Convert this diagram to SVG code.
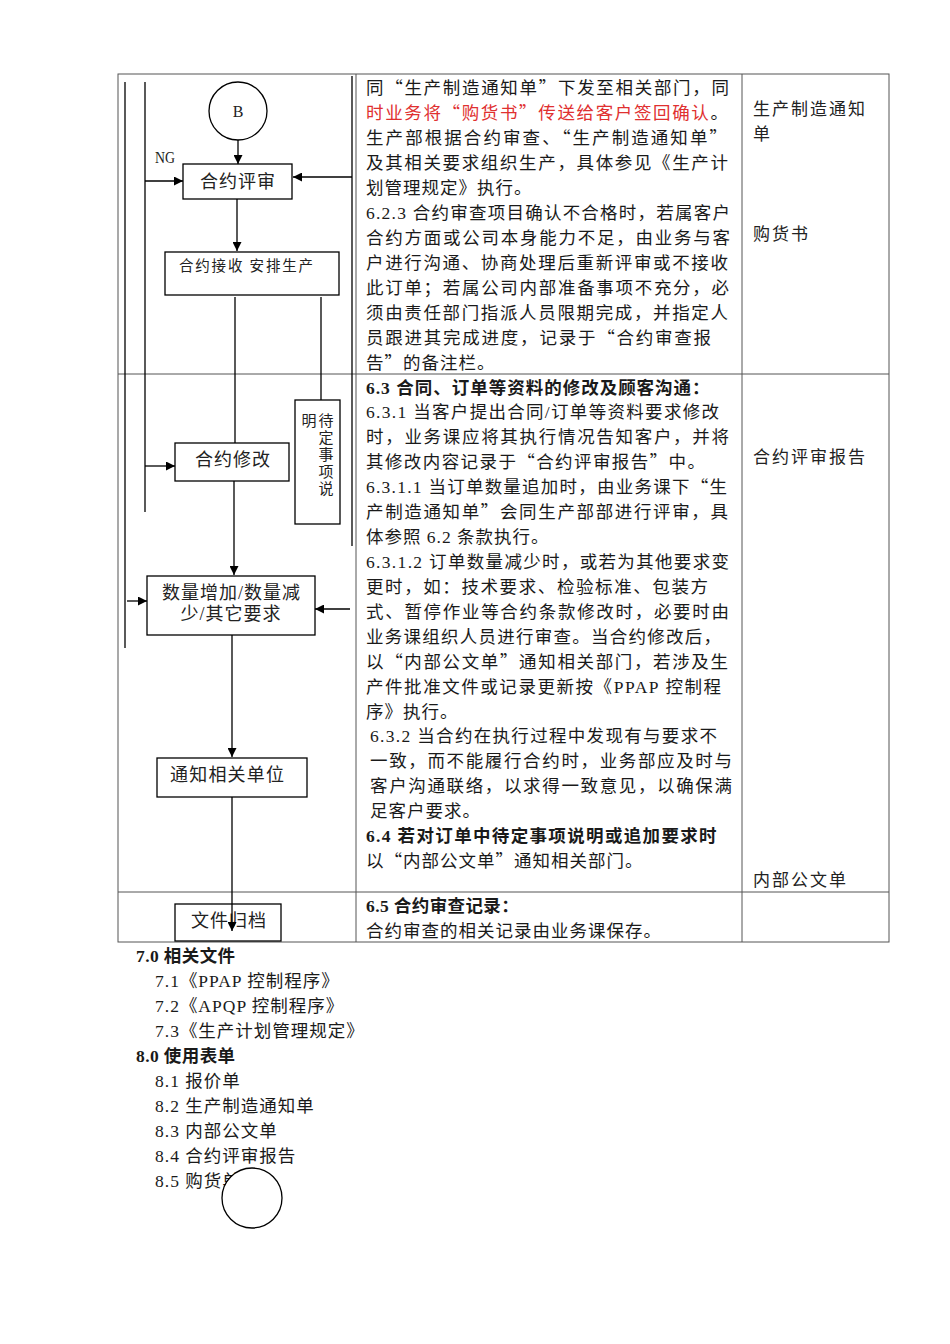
<svg xmlns="http://www.w3.org/2000/svg" width="950" height="1344" viewBox="0 0 950 1344">
<defs>
<marker id="ah" viewBox="0 0 10 10" refX="10" refY="5" markerWidth="9" markerHeight="9" markerUnits="userSpaceOnUse" orient="auto"><path d="M0,0 L10,5 L0,10 z" fill="#000"/></marker>
<style>
.t{font-family:"Liberation Serif","Noto Sans CJK SC",serif;font-size:17.5px;fill:#1a1a1a;letter-spacing:1px}
.b{font-weight:bold;letter-spacing:0.4px}
.r{fill:#e03030}
.q{font-family:"Noto Sans CJK SC",sans-serif}
.grid{stroke:#555;stroke-width:1;fill:none}
.box{fill:#fff;stroke:#000;stroke-width:1.3}
.ln{stroke:#000;stroke-width:1.3;fill:none}
.ar{stroke:#000;stroke-width:1.3;fill:none;marker-end:url(#ah)}
.n{font-family:"Liberation Serif","Noto Sans CJK SC",serif;font-size:18px;fill:#222}
.rc{font-family:"Liberation Serif","Noto Sans CJK SC",serif;font-size:17px;fill:#222;letter-spacing:2px}
</style>
</defs>
<rect width="950" height="1344" fill="#fff"/>
<g id="table">
<rect class="grid" x="118" y="74" width="771" height="868"/>
<line class="grid" x1="356" y1="74" x2="356" y2="942"/>
<line class="grid" x1="742" y1="74" x2="742" y2="942"/>
<line class="grid" x1="118" y1="374" x2="889" y2="374"/>
<line class="grid" x1="118" y1="892" x2="889" y2="892"/>
</g>
<g id="connectors">
<line class="ln" x1="125" y1="82" x2="125" y2="648"/>
<line class="ln" x1="145" y1="82" x2="145" y2="512"/>
<line class="ln" x1="352" y1="76" x2="352" y2="546"/>
<line class="ar" x1="238" y1="140" x2="238" y2="164"/>
<line class="ar" x1="145" y1="181" x2="183" y2="181"/>
<line class="ar" x1="352" y1="177" x2="293" y2="177"/>
<line class="ar" x1="237" y1="199" x2="237" y2="251"/>
<line class="ln" x1="235" y1="297" x2="235" y2="443"/>
<line class="ln" x1="321" y1="297" x2="321" y2="400"/>
<line class="ar" x1="145" y1="466" x2="175" y2="466"/>
<line class="ar" x1="234" y1="481" x2="234" y2="575"/>
<line class="ar" x1="127" y1="601" x2="147" y2="601"/>
<line class="ar" x1="350" y1="609" x2="315" y2="609"/>
<line class="ar" x1="232" y1="635" x2="232" y2="757"/>
<text class="n" x="155" y="163" style="font-size:16px" textLength="20" lengthAdjust="spacingAndGlyphs">NG</text>
</g>
<g id="nodeB">
<circle class="box" cx="238" cy="111" r="29"/>
<text class="n" x="238" y="117" text-anchor="middle" style="font-size:16px">B</text>
</g>
<g id="review">
<rect class="box" x="183" y="164" width="109" height="35"/>
<text class="n" x="238" y="188" text-anchor="middle" style="letter-spacing:1px">合约评审</text>
</g>
<g id="accept">
<rect class="box" x="165" y="252" width="174" height="43"/>
<text class="n" x="179" y="271" style="font-size:14.5px" textLength="134" lengthAdjust="spacing">合约接收 安排生产</text>
</g>
<g id="pending">
<rect class="box" x="295" y="400" width="45" height="124"/>
<text class="n" style="font-size:15px" text-anchor="middle"><tspan x="326" y="426">待</tspan><tspan x="326" y="443">定</tspan><tspan x="326" y="460">事</tspan><tspan x="326" y="477">项</tspan><tspan x="326" y="494">说</tspan><tspan x="309" y="426">明</tspan></text>
</g>
<g id="modify">
<rect class="box" x="175" y="443" width="114" height="38"/>
<text class="n" x="233" y="466" text-anchor="middle" style="letter-spacing:1px">合约修改</text>
</g>
<g id="change">
<rect class="box" x="147" y="576" width="168" height="59"/>
<text class="n" x="231" y="599" text-anchor="middle" textLength="138" lengthAdjust="spacing">数量增加/数量减</text>
<text class="n" x="231" y="620" text-anchor="middle" style="letter-spacing:1px">少/其它要求</text>
</g>
<g id="notify">
<rect class="box" x="157" y="758" width="150" height="39"/>
<text class="n" x="170" y="781" textLength="114" lengthAdjust="spacing">通知相关单位</text>
</g>
<g id="archive">
<rect class="box" x="175" y="904" width="106" height="37"/>
<text class="n" x="229" y="927" text-anchor="middle" style="letter-spacing:1px">文件归档</text>
</g>
<g id="archive-arrow">
<line class="ar" x1="232" y1="797" x2="232" y2="931"/>
</g>
<g id="text1">
<text class="t" x="366" y="94" textLength="364" lengthAdjust="spacing">同<tspan class="q">“</tspan>生产制造通知单<tspan class="q">”</tspan>下发至相关部门，同</text>
<text class="t" x="366" y="119" textLength="363" lengthAdjust="spacing"><tspan class="r">时业务将<tspan class="q">“</tspan>购货书<tspan class="q">”</tspan>传送给客户签回确认</tspan>。</text>
<text class="t" x="366" y="144" textLength="362" lengthAdjust="spacing">生产部根据合约审查、<tspan class="q">“</tspan>生产制造通知单<tspan class="q">”</tspan></text>
<text class="t" x="366" y="169" textLength="363" lengthAdjust="spacing">及其相关要求组织生产，具体参见《生产计</text>
<text class="t" x="366" y="194">划管理规定》执行。</text>
<text class="t" x="366" y="219" textLength="365" lengthAdjust="spacing">6.2.3 合约审查项目确认不合格时，若属客户</text>
<text class="t" x="366" y="244" textLength="365" lengthAdjust="spacing">合约方面或公司本身能力不足，由业务与客</text>
<text class="t" x="366" y="269" textLength="363" lengthAdjust="spacing">户进行沟通、协商处理后重新评审或不接收</text>
<text class="t" x="366" y="294" textLength="364" lengthAdjust="spacing">此订单；若属公司内部准备事项不充分，必</text>
<text class="t" x="366" y="319" textLength="363" lengthAdjust="spacing">须由责任部门指派人员限期完成，并指定人</text>
<text class="t" x="366" y="344" textLength="346" lengthAdjust="spacing">员跟进其完成进度，记录于<tspan class="q">“</tspan>合约审查报</text>
<text class="t" x="366" y="369">告<tspan class="q">”</tspan>的备注栏。</text>
</g>
<g id="text2">
<text class="t b" x="366" y="394" textLength="344" lengthAdjust="spacing">6.3 合同、订单等资料的修改及顾客沟通：</text>
<text class="t" x="366" y="418" textLength="354" lengthAdjust="spacing">6.3.1 当客户提出合同/订单等资料要求修改</text>
<text class="t" x="366" y="443" textLength="364" lengthAdjust="spacing">时，业务课应将其执行情况告知客户，并将</text>
<text class="t" x="366" y="468" textLength="340" lengthAdjust="spacing">其修改内容记录于<tspan class="q">“</tspan>合约评审报告<tspan class="q">”</tspan>中。</text>
<text class="t" x="366" y="493" textLength="362" lengthAdjust="spacing">6.3.1.1 当订单数量追加时，由业务课下<tspan class="q">“</tspan>生</text>
<text class="t" x="366" y="518" textLength="363" lengthAdjust="spacing">产制造通知单<tspan class="q">”</tspan>会同生产部部进行评审，具</text>
<text class="t" x="366" y="543">体参照 6.2 条款执行。</text>
<text class="t" x="366" y="568" textLength="364" lengthAdjust="spacing">6.3.1.2 订单数量减少时，或若为其他要求变</text>
<text class="t" x="366" y="593" textLength="343" lengthAdjust="spacing">更时，如：技术要求、检验标准、包装方</text>
<text class="t" x="366" y="618" textLength="364" lengthAdjust="spacing">式、暂停作业等合约条款修改时，必要时由</text>
<text class="t" x="366" y="643" textLength="356" lengthAdjust="spacing">业务课组织人员进行审查。当合约修改后，</text>
<text class="t" x="366" y="668" textLength="363" lengthAdjust="spacing">以<tspan class="q">“</tspan>内部公文单<tspan class="q">”</tspan>通知相关部门，若涉及生</text>
<text class="t" x="366" y="693" textLength="356" lengthAdjust="spacing">产件批准文件或记录更新按《PPAP 控制程</text>
<text class="t" x="366" y="718">序》执行。</text>
<text class="t" x="370" y="742" textLength="348" lengthAdjust="spacing">6.3.2 当合约在执行过程中发现有与要求不</text>
<text class="t" x="370" y="767" textLength="363" lengthAdjust="spacing">一致，而不能履行合约时，业务部应及时与</text>
<text class="t" x="370" y="792" textLength="363" lengthAdjust="spacing">客户沟通联络，以求得一致意见，以确保满</text>
<text class="t" x="370" y="817">足客户要求。</text>
<text class="t b" x="366" y="842" textLength="351" lengthAdjust="spacing">6.4 若对订单中待定事项说明或追加要求时</text>
<text class="t" x="366" y="867">以<tspan class="q">“</tspan>内部公文单<tspan class="q">”</tspan>通知相关部门。</text>
</g>
<g id="text3">
<text class="t b" x="366" y="912">6.5 合约审查记录：</text>
<text class="t" x="366" y="937">合约审查的相关记录由业务课保存。</text>
</g>
<g id="records">
<text class="rc" x="753" y="115">生产制造通知</text>
<text class="rc" x="753" y="140">单</text>
<text class="rc" x="753" y="240">购货书</text>
<text class="rc" x="753" y="463">合约评审报告</text>
<text class="rc" x="753" y="886">内部公文单</text>
</g>
<g id="footer">
<text class="t b" x="136" y="962">7.0 相关文件</text>
<text class="t" x="155" y="987">7.1《PPAP 控制程序》</text>
<text class="t" x="155" y="1012">7.2《APQP 控制程序》</text>
<text class="t" x="155" y="1037">7.3《生产计划管理规定》</text>
<text class="t b" x="136" y="1062">8.0 使用表单</text>
<text class="t" x="155" y="1087">8.1 报价单</text>
<text class="t" x="155" y="1112">8.2 生产制造通知单</text>
<text class="t" x="155" y="1137">8.3 内部公文单</text>
<text class="t" x="155" y="1162">8.4 合约评审报告</text>
<text class="t" x="155" y="1187">8.5 购货单</text>
</g>
<g id="connector-circle">
<circle class="box" cx="252" cy="1198" r="30"/>
</g>
</svg>
